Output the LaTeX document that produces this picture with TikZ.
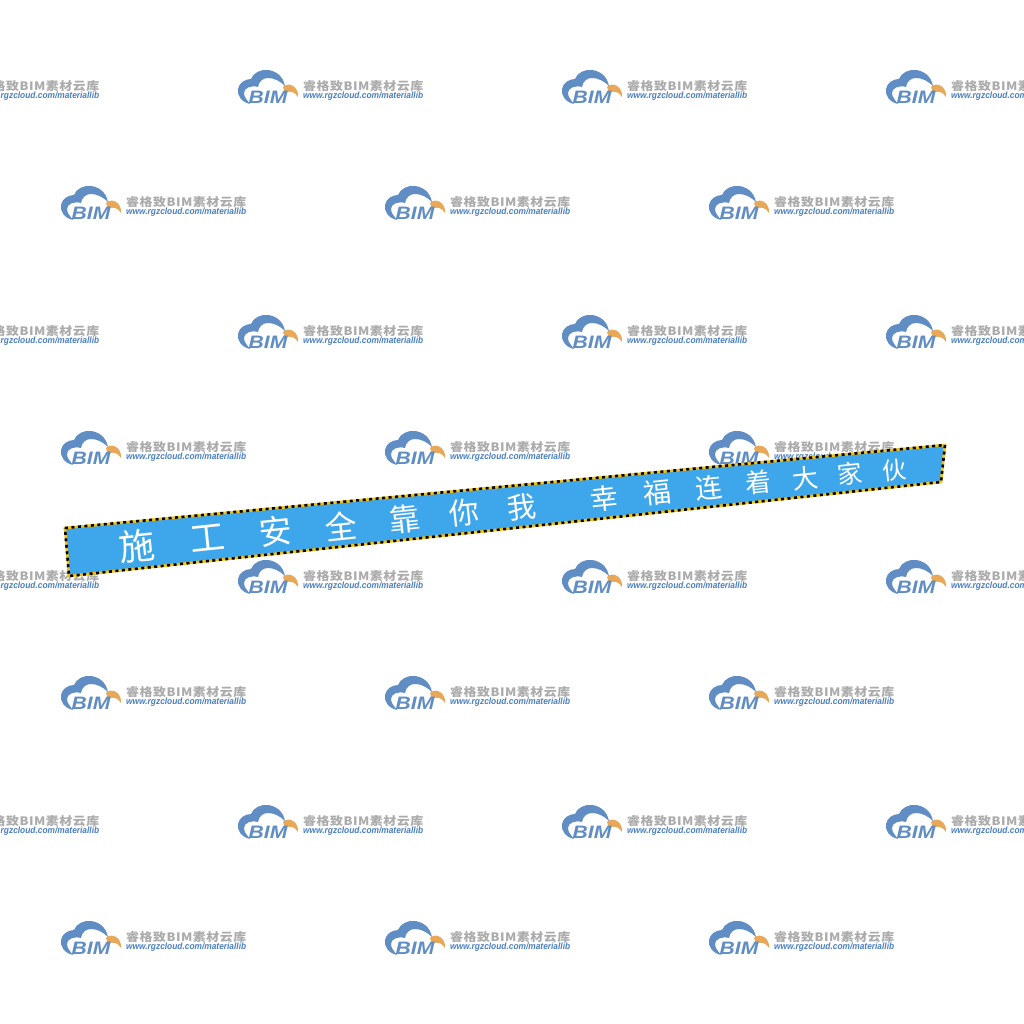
\documentclass[tikz,border=0pt]{standalone}
\usepackage{fontspec}
\setmainfont{Liberation Sans}
\newfontfamily\cjkwide[LetterSpace=4]{Noto Sans CJK SC}
\newfontfamily\cjkplain{Noto Sans CJK SC}
\definecolor{logoblue}{HTML}{5F8DC4}
\definecolor{logoorange}{HTML}{E8A858}
\definecolor{logogray}{HTML}{ABABAB}
\definecolor{urlblue}{HTML}{4A7FC0}
\definecolor{bannerblue}{HTML}{3EA6EA}
\definecolor{hazardyellow}{HTML}{F2C21A}
\tikzset{
  cloudshape/.style={fill=logoblue,draw=none},
  arcshape/.style={fill=logoorange,draw=none},
  bimtext/.style={inner sep=0pt,text=logoblue,font=\fontsize{18}{18}\selectfont\bfseries\itshape,xscale=1.17,transform shape},
  cntext/.style={inner sep=0pt,anchor=west,text=logogray},
  urltext/.style={inner sep=0pt,anchor=west,text=urlblue},
  bannerfill/.style={fill=bannerblue,draw=none},
  bannerbase/.style={draw=hazardyellow,line width=2.6pt},
  bannerdash/.style={draw=black,line width=2.6pt,dash pattern=on 3pt off 3.5pt},
  bannerchar/.style={inner sep=0pt,text=white,rotate=6},
  pics/bimlogo/.style={code={
    \fill[cloudshape] (12,34) .. controls (3,32) and (-1,25) .. (0,19)
      .. controls (1,13) and (7,9) .. (13,9)
      .. controls (15,3) and (23,-1) .. (30,0)
      .. controls (38,1) and (45,6) .. (47,16)
      .. controls (42,11) and (36,8) .. (30,8)
      .. controls (25,8) and (21,11) .. (20,17)
      .. controls (13,15) and (6,18) .. (6,23)
      .. controls (6,27) and (9,30) .. (12,34) -- cycle;
    \fill[arcshape] (45,17) .. controls (51,11) and (61,17) .. (60,27)
      .. controls (57,22) and (52,20) .. (47,23) -- cycle;
    \node[bimtext] (-bim) at (30,27.5) {BIM};
    \node[cntext] (-cn) at (65,16.5) {\resizebox{120pt}{10pt}{\cjkwide\fontsize{13}{13}\selectfont\bfseries 睿格致BIM素材云库}};
    \node[urltext] (-url) at (65,26) {\resizebox{120pt}{6.6pt}{\fontsize{8}{8}\selectfont\bfseries\itshape www.rgzcloud.com/materiallib}};
  }}
}
\begin{document}
\begin{tikzpicture}[x=1pt,y=-1pt]
\useasboundingbox (0,0) rectangle (1024,1024);
\clip (0,0) rectangle (1024,1024);
\fill[white] (0,0) rectangle (1024,1024);
% logo rows
\foreach \ry in {70,315,560,805}{
  \foreach \rx in {-86,238,562,886}{
    \pic (logoA\rx-\ry) at (\rx,\ry) {bimlogo};
  }
}
\foreach \ry in {186,431,676,921}{
  \foreach \rx in {61,385,709}{
    \pic (logoB\rx-\ry) at (\rx,\ry) {bimlogo};
  }
}
% banner
\coordinate (tl) at (65,528);
\coordinate (tr) at (945,445);
\coordinate (br) at (941,482);
\coordinate (bl) at (69,576);
\fill[bannerfill] (tl) -- (tr) -- (br) -- (bl) -- cycle;
\draw[bannerbase] (tl) -- (tr) -- (br) -- (bl) -- cycle;
\draw[bannerdash] (tl) -- (tr) -- (br) -- (bl) -- cycle;
\foreach \ch/\cx/\cy/\cs [count=\ci] in {
  施/137/546/36, 工/208/538/35, 安/276/531/33, 全/341/526/32, 靠/405/519/31,
  你/464/513/30, 我/522/507/29, 幸/604/498/28, 福/657/493/28, 连/709/488/27,
  着/758/482/26, 大/805/478/26, 家/850/474/25, 伙/894/470/24}{
  \node[bannerchar] (ch\ci) at (\cx,\cy) {\cjkplain\fontsize{\cs}{\cs}\selectfont \ch};
}
\end{tikzpicture}
\end{document}
